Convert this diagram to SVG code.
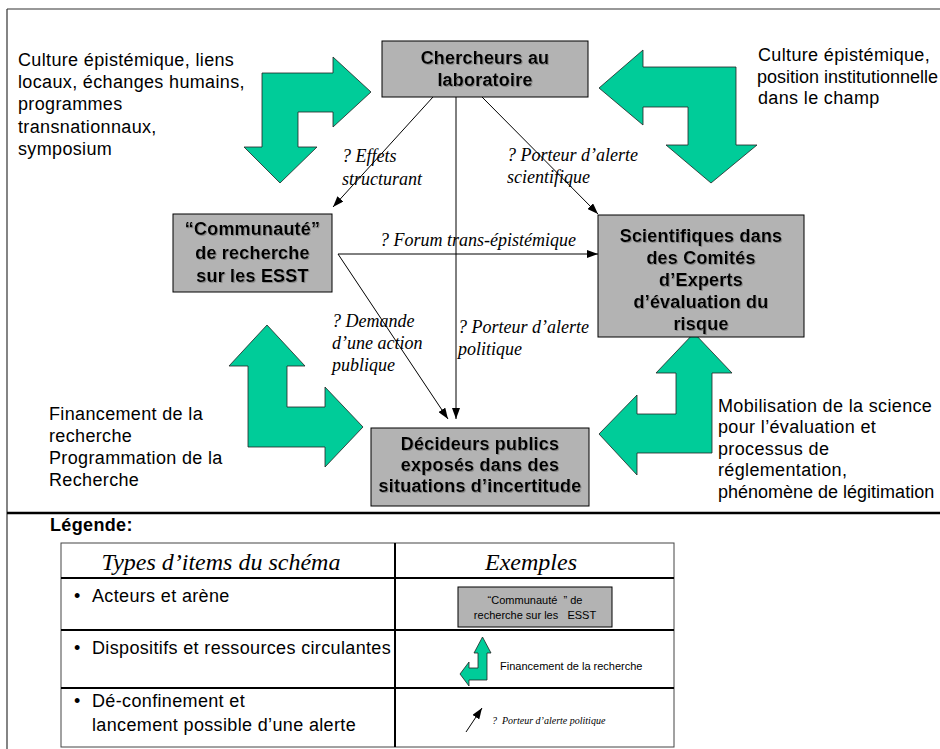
<svg xmlns="http://www.w3.org/2000/svg" width="940" height="749" viewBox="0 0 940 749">
<style>
.sans{font-family:"Liberation Sans",Arial,sans-serif;font-size:18px;letter-spacing:0.35px;fill:#000}
.tight{letter-spacing:0}
.box{fill:#b3b3b3;stroke:#000;stroke-width:1}
.bt{font-family:"Liberation Sans",Arial,sans-serif;font-size:18px;font-weight:bold;letter-spacing:0.2px;fill:#000;text-anchor:middle;filter:url(#sh)}
.it{font-family:"Liberation Serif","Times New Roman",serif;font-style:italic;font-size:18px;fill:#000}
.hd{font-family:"Liberation Serif","Times New Roman",serif;font-style:italic;font-size:24px;fill:#000;text-anchor:middle}
.sm{font-family:"Liberation Sans",Arial,sans-serif;font-size:11px;fill:#000}
.green{fill:#00cc99;stroke:#222;stroke-width:0.8}
.conn{stroke:#000;stroke-width:1;fill:none;marker-end:url(#ah)}
.frame{stroke:#333;stroke-width:1.2;fill:none}
.tl{stroke:#000;stroke-width:2;fill:none}
.to{stroke:#444;stroke-width:1;fill:none}
</style>
<defs>
<marker id="ah" markerUnits="userSpaceOnUse" markerWidth="11" markerHeight="8" refX="11" refY="4" orient="auto">
<path d="M0,0 L11,4 L0,8 z" fill="#000"/>
</marker>
<filter id="sh" x="-5%" y="-20%" width="110%" height="140%">
<feDropShadow dx="1" dy="1" stdDeviation="0.3" flood-color="#777" flood-opacity="0.7"/>
</filter>
</defs>
<rect width="940" height="749" fill="#fff"/>
<g id="frame">
<line class="frame" x1="7" y1="9" x2="940" y2="9"/>
<line class="frame" x1="7" y1="9" x2="7" y2="749"/>
<line x1="7" y1="513" x2="940" y2="513" stroke="#000" stroke-width="2.5"/>
</g>
<g id="flows">
<polygon id="flow-tl" class="green" points="262,73 333,73 333,57 371,92 333,127 333,112 298,112 298,147 317,147 280,183 244,147 262,147"/>
<polygon id="flow-tr" class="green" points="599,88 643,50 643,67 736,67 736,145 757,145 711,183 666,145 688,145 688,107 643,107 643,125"/>
<polygon id="flow-bl" class="green" points="267,325 305,366 287,366 287,407 325,407 325,387 363,427 325,467 325,447 248,447 248,366 229,366"/>
<polygon id="flow-br" class="green" points="694,333 732,373 712,373 712,453 637,453 637,475 599,434 637,395 637,414 676,414 676,373 656,373"/>
</g>
<g id="flow-labels" class="sans">
<text x="18" y="66">Culture épistémique, liens</text>
<text x="18" y="88">locaux, échanges humains,</text>
<text x="18" y="110">programmes</text>
<text x="18" y="133">transnationnaux,</text>
<text x="18" y="155">symposium</text>
<text x="758" y="61">Culture épistémique,</text>
<text class="tight" x="757" y="83">position institutionnelle</text>
<text x="758" y="104">dans le champ</text>
<text x="49" y="420">Financement de la</text>
<text x="49" y="442">recherche</text>
<text x="49" y="464">Programmation de la</text>
<text x="49" y="486">Recherche</text>
<text x="718" y="412">Mobilisation de la science</text>
<text x="718" y="433">pour l’évaluation et</text>
<text x="718" y="455">processus de</text>
<text x="718" y="476">réglementation,</text>
<text class="tight" x="718" y="498">phénomène de légitimation</text>
</g>
<g id="connectors">
<line class="conn" x1="433" y1="97" x2="333" y2="207"/>
<line class="conn" x1="482" y1="97" x2="598" y2="214"/>
<line class="conn" x1="456" y1="97" x2="456" y2="419"/>
<line class="conn" x1="338" y1="254" x2="598" y2="254"/>
<line class="conn" x1="338" y1="254" x2="448" y2="419"/>
</g>
<g id="edge-labels" class="it">
<text x="342" y="162">? Effets</text>
<text x="342" y="185">structurant</text>
<text x="507" y="161">? Porteur d’alerte</text>
<text x="507" y="183">scientifique</text>
<text x="380" y="246">? Forum trans-épistémique</text>
<text x="332" y="327">? Demande</text>
<text x="332" y="349">d’une action</text>
<text x="332" y="371">publique</text>
<text x="458" y="333">? Porteur d’alerte</text>
<text x="458" y="355">politique</text>
</g>
<g id="node-chercheurs">
<rect class="box" x="382" y="41" width="206" height="56"/>
<text class="bt" x="485" y="64">Chercheurs au</text>
<text class="bt" x="485" y="86">laboratoire</text>
</g>
<g id="node-communaute">
<rect class="box" x="173" y="214" width="159" height="78"/>
<text class="bt" x="252.5" y="235">“Communauté”</text>
<text class="bt" x="252.5" y="259">de recherche</text>
<text class="bt" x="252.5" y="282">sur les ESST</text>
</g>
<g id="node-scientifiques">
<rect class="box" x="598" y="215" width="206" height="122"/>
<text class="bt" x="701" y="242">Scientifiques dans</text>
<text class="bt" x="701" y="264">des Comités</text>
<text class="bt" x="701" y="286">d’Experts</text>
<text class="bt" x="701" y="308">d’évaluation du</text>
<text class="bt" x="701" y="330">risque</text>
</g>
<g id="node-decideurs">
<rect class="box" x="371" y="428" width="218" height="78"/>
<text class="bt" x="480" y="450">Décideurs publics</text>
<text class="bt" x="480" y="471">exposés dans des</text>
<text class="bt" x="480" y="492">situations d’incertitude</text>
</g>
<g id="legend">
<text class="sans" x="50" y="531" font-weight="bold">Légende:</text>
<rect class="to" x="61" y="543" width="613" height="204"/>
<line class="tl" x1="395" y1="543" x2="395" y2="747"/>
<line class="tl" x1="61" y1="578" x2="674" y2="578"/>
<line class="tl" x1="61" y1="630" x2="674" y2="630"/>
<line class="tl" x1="61" y1="688" x2="674" y2="688"/>
<text class="hd" x="221" y="570">Types d’items du schéma</text>
<text class="hd" x="531" y="570">Exemples</text>
<text class="sans" x="74" y="602">•</text>
<text class="sans" x="92" y="602">Acteurs et arène</text>
<text class="sans" x="74" y="654">•</text>
<text class="sans" x="92" y="654">Dispositifs et ressources circulantes</text>
<text class="sans" x="74" y="707">•</text>
<text class="sans" x="92" y="707">Dé-confinement et</text>
<text class="sans" x="92" y="731">lancement possible d’une alerte</text>
<rect class="box" x="458" y="587" width="154" height="40"/>
<text class="sm" x="535" y="604" text-anchor="middle" xml:space="preserve">“Communauté  ” de</text>
<text class="sm" x="535" y="619" text-anchor="middle" xml:space="preserve">recherche sur les   ESST</text>
<polygon class="green" points="482.5,637 491,653 487,653 487,680 469,680 469,686 460,674 469,662 469,668 478,668 478,653 474,653"/>
<text class="sm" x="500" y="670">Financement de la recherche</text>
<line class="conn" x1="466" y1="732" x2="482" y2="708"/>
<text x="492" y="724" style="font-family:'Liberation Serif','Times New Roman',serif;font-style:italic;font-size:10px" xml:space="preserve">?  Porteur d’alerte politique</text>
</g>
</svg>
